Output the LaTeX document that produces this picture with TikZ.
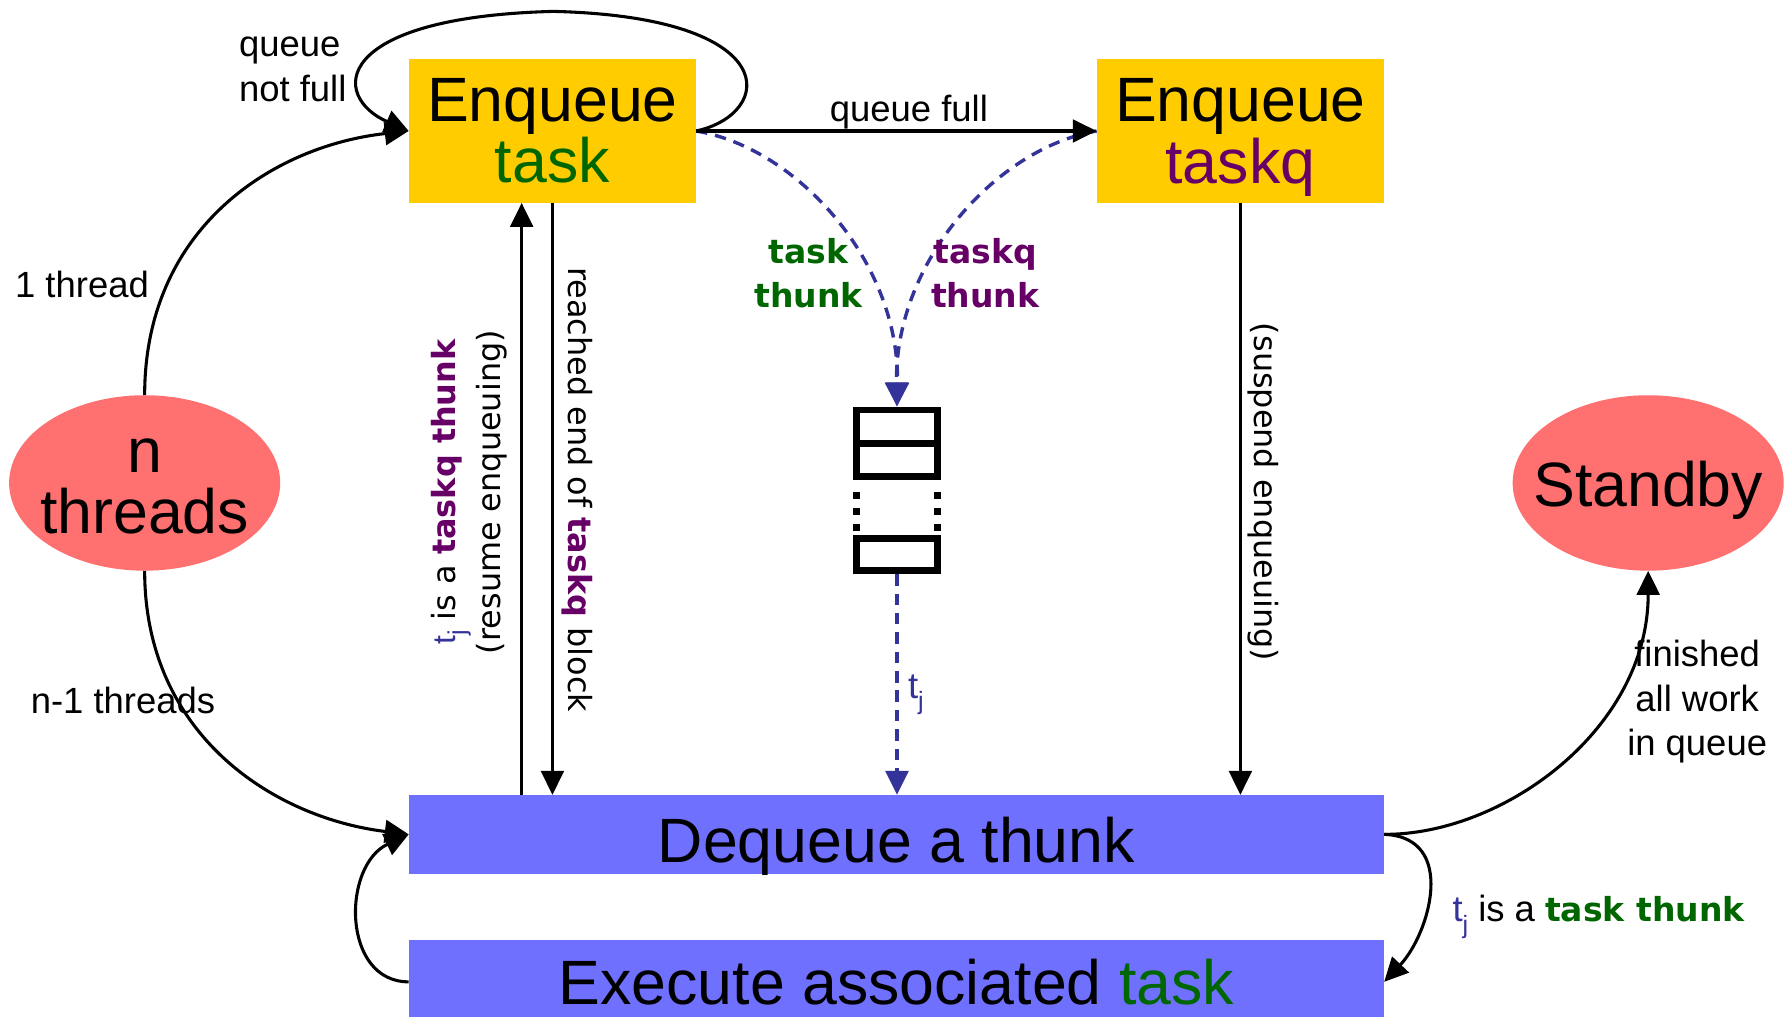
\documentclass[tikz,border=0pt]{standalone}
\usepackage{fontspec}
\setmainfont{Liberation Sans}
\newfontfamily\djv{DejaVu Sans}
\usetikzlibrary{arrows.meta,shapes.geometric,calc}

\definecolor{boxyellow}{HTML}{FFCC00}
\definecolor{ovalred}{HTML}{FF7070}
\definecolor{boxblue}{HTML}{7070FF}
\definecolor{taskgreen}{HTML}{006600}
\definecolor{taskqpurple}{HTML}{660066}
\definecolor{thunkblue}{HTML}{333399}

\newcommand{\bigtxt}{\fontsize{55}{54}\selectfont}
\newcommand{\smalltxt}{\fontsize{32}{39}\selectfont}
\newcommand{\boldlbl}{\djv\bfseries\fontsize{29}{39}\selectfont}
\newcommand{\rottxt}{\djv\fontsize{28}{40}\selectfont}
\newcommand{\tsubj}{{\rmfamily\color{thunkblue}t\raisebox{-0.32em}{\fontsize{22}{22}\selectfont j}}}

\tikzset{
  yellowbox/.style={rectangle, fill=boxyellow, minimum width=252pt, minimum height=126pt,
    inner sep=0pt, align=center, font=\bigtxt},
  oval/.style={ellipse, fill=ovalred, minimum width=238pt, minimum height=154pt, inner sep=0pt},
  bigtext/.style={font=\bigtxt, align=center, inner sep=0pt},
  bluebox/.style={rectangle, fill=boxblue, minimum width=856pt, inner sep=0pt, font=\bigtxt},
  flow/.style={line width=2.7pt, -{Triangle[length=21pt,width=20pt]}},
  thunkflow/.style={line width=3pt, thunkblue, dash pattern=on 10pt off 7pt,
    -{Triangle[length=21pt,width=20pt]}},
  lbl/.style={font=\smalltxt, inner sep=0pt, align=center},
  boldlabel/.style={font=\boldlbl, inner sep=0pt, align=center},
  rotlabel/.style={font=\rottxt, inner sep=0pt, align=center},
  qline/.style={line width=6pt}
}

\begin{document}
\begin{tikzpicture}[x=1pt, y=-1pt]
\useasboundingbox (0,0) rectangle (1568,892);
\fill[white] (0,0) rectangle (1568,892);

% states
\node[yellowbox] (enqT) at (485,115) {Enqueue\\\textcolor{taskgreen}{task}};
\node[yellowbox, text depth=0pt] (enqQ) at (1089,115) {Enqueue\\\textcolor{taskqpurple}{taskq}};
\node[oval] (nthr) at (127,424) {};
\node[bigtext] (nthrtxt) at (127,427) {n\\threads};
\node[oval] (stand) at (1447,424) {};
\node[bigtext, text depth=0pt] (standtxt) at (1447,425) {Standby};
\node[bluebox, minimum height=69pt, text height=49pt, text depth=0pt] (deq) at (787,732.5) {Dequeue a thunk};
\node[bluebox, minimum height=74pt, text height=40pt, text depth=0pt] (exe) at (787,862)
  {Execute associated \textcolor{taskgreen}{task}};

% thunk queue
\node[minimum width=77pt, minimum height=147pt, inner sep=0pt] (queue) at (787.5,430.5) {};
\draw[qline] (752,360) rectangle (823,418);
\draw[qline] (752,389) -- (823,389);
\draw[qline] (752,473) rectangle (823,501);
\foreach \yy in {435,449,463}{
  \fill (749,\yy-3) rectangle (755,\yy+3);
  \fill (820,\yy-3) rectangle (826,\yy+3);
}

% thunk flow
\draw[thunkflow] (enqT.east) .. controls (700,130) and (790,230) .. (queue.north);
\draw[thunkflow] (enqQ.west) .. controls (875,130) and (785,230) .. (queue.north);
\draw[thunkflow] (queue.south) -- (queue.south |- deq.north);

% control flow
\draw[flow] (nthr.north) .. controls (127,200) and (240,128) .. (enqT.west);
\draw[flow] (nthr.south) .. controls (127,645) and (240,718) .. (deq.west);
\draw[flow] (enqT.east) .. controls (680,100) and (690,15) .. (486,10)
                        .. controls (290,15) and (290,85) .. (enqT.west);
\draw[flow] (enqT.east) -- (enqQ.west);
\coordinate (upx) at ($(enqT.south)+(-27,0)$);
\draw[flow] (upx |- deq.north) -- (upx);
\draw[flow] (enqT.south) -- (enqT.south |- deq.north);
\draw[flow] (enqQ.south) -- (enqQ.south |- deq.north);
\draw[flow] (deq.east) .. controls (1320,733) and (1447,640) .. (stand.south);
\draw[flow] (deq.east) .. controls (1280,735) and (1255,820) .. (exe.east);
\draw[flow] (exe.west) .. controls (300,862) and (300,760) .. (deq.west);

% labels
\node[lbl] (lblone) at (72,250) {1 thread};
\node[lbl] (lblnm1) at (108,615) {n-1 threads};
\node[lbl, align=left] (lblnf) at (257,61) {queue\\not full};
\node[lbl] (lblqf) at (798,98) {queue full};
\node[lbl] (lblfin) at (1490,616) {finished\\all work\\in queue};
\node[lbl, anchor=base west] (lbltt) at (1275,809)
  {\tsubj{} is a {\boldlbl\color{taskgreen}task thunk}};
\node[lbl, anchor=base west] (lbltj) at (797,613) {\tsubj};
\node[boldlabel, text=taskgreen] (lbltask) at (710,240) {task\\thunk};
\node[boldlabel, text=taskqpurple] (lbltaskq) at (865,240) {taskq\\thunk};
\node[rotlabel, rotate=90] (lblresume) at (412,432)
  {\tsubj{} is a {\bfseries\color{taskqpurple}taskq thunk}\\(resume enqueuing)};
\node[rotlabel, rotate=-90] (lblreach) at (507,430)
  {reached end of {\bfseries\color{taskqpurple}taskq} block};
\node[rotlabel, rotate=-90] (lblsusp) at (1109,432) {(suspend enqueuing)};
\end{tikzpicture}
\end{document}
